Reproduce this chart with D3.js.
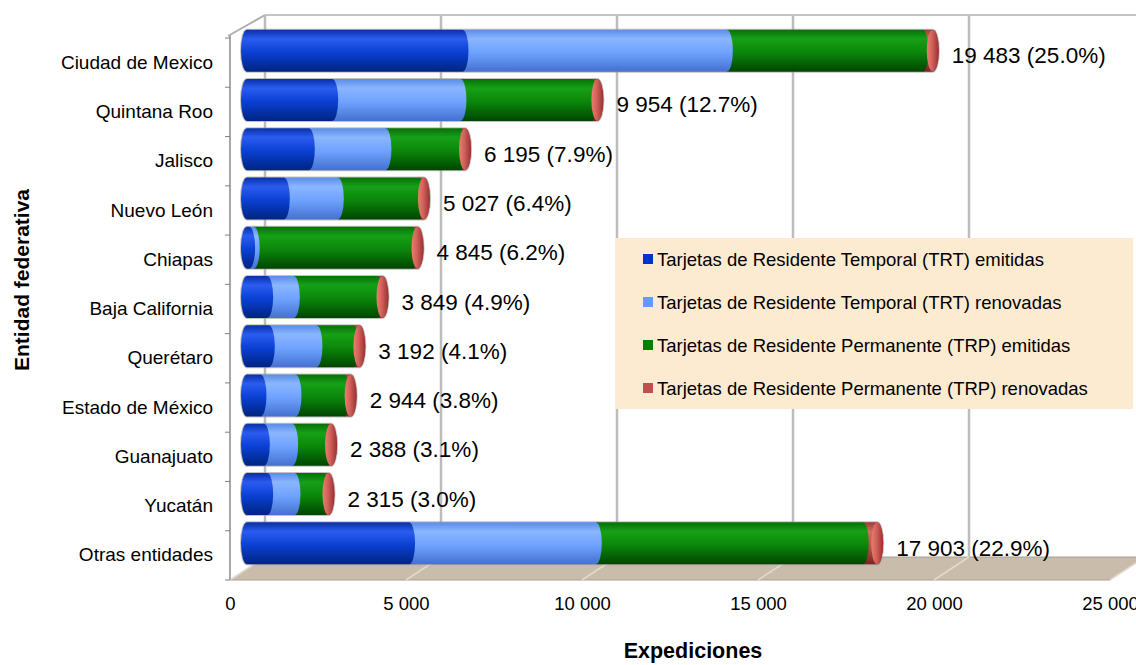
<!DOCTYPE html>
<html><head><meta charset="utf-8">
<script src="https://cdn.jsdelivr.net/npm/d3@7"></script>
<style>body{margin:0;background:#fff}svg{display:block;font-family:"Liberation Sans",Arial,sans-serif}</style>
</head><body><svg id="c" width="1136" height="665"></svg>
<script>
const categories = ["Ciudad de Mexico","Quintana Roo","Jalisco","Nuevo León","Chiapas","Baja California","Querétaro","Estado de México","Guanajuato","Yucatán","Otras entidades"];
const trtEmitidas  = [6122, 2420, 1756, 1046,   60,  573,  620,  383, 478, 573, 4604];
const trtRenovadas = [7510, 3644, 2177, 1534,  130,  757, 1354,  994, 805, 776, 5305];
const trpEmitidas  = [5561, 3736, 2130, 2300, 4500, 2367, 1042, 1373, 994, 833, 7585];
const trpRenovadas = [ 290,  154,  132,  147,  155,  152,  176,  194, 111, 133,  409];
const percents = [25.0, 12.7, 7.9, 6.4, 6.2, 4.9, 4.1, 3.8, 3.1, 3.0, 22.9];
const seriesNames = ["Tarjetas de Residente Temporal (TRT) emitidas","Tarjetas de Residente Temporal (TRT) renovadas","Tarjetas de Residente Permanente (TRP) emitidas","Tarjetas de Residente Permanente (TRP) renovadas"];
const xTicks = [0, 5000, 10000, 15000, 20000, 25000];
const series = [trtEmitidas, trtRenovadas, trpEmitidas, trpRenovadas];
const legendColors = ["#0033cc", "#6699ff", "#008000", "#c0504d"];
const shades = [
  ["#0830a8","#2a5cf0","#0a3fd2","#002480"],
  ["#5a8ce8","#8ab6ff","#6ea2ff","#4570d0"],
  ["#067006","#17a017","#0a860a","#004500"],
  ["#a03a38","#d86a60","#c0504d","#7a2522"]
];

const svg = d3.select("#c");
const x = d3.scaleLinear().domain([0,25000]).range([230,1110]);
const y = d3.scaleBand().domain(categories).range([38,580]);
const DX = 35, DY = -23;
const BX = 17, BY = -12;
const barH = 42, rx = 6;
const fmt = d => d3.format(",")(d).replace(/,/g, " ");

const defs = svg.append("defs");
shades.forEach((s,i)=>{
  const g = defs.append("linearGradient").attr("id","g"+i).attr("x1",0).attr("y1",0).attr("x2",0).attr("y2",1);
  [[0,s[0]],[0.22,s[1]],[0.55,s[2]],[1,s[3]]].forEach(([o,c])=>g.append("stop").attr("offset",o).attr("stop-color",c));
});
const cg = defs.append("linearGradient").attr("id","cap").attr("x1",0).attr("y1",0).attr("x2",1).attr("y2",0);
[[0,"#e8806e"],[0.45,"#d0605a"],[1,"#983030"]].forEach(([o,c])=>cg.append("stop").attr("offset",o).attr("stop-color",c));

// floor
const x0 = x(0), x1 = x(25000), yb = 580;
svg.append("polygon")
  .attr("points", [[x0,yb],[x1,yb],[x1+DX,yb+DY],[x0+DX,yb+DY]].map(p=>p.join(",")).join(" "))
  .attr("fill","#c9bcaa").attr("stroke","#a8a096").attr("stroke-width",1);

// back wall gridlines
xTicks.forEach(v=>{
  svg.append("line").attr("x1",x(v)+DX).attr("x2",x(v)+DX).attr("y1",y.range()[0]+DY).attr("y2",yb+DY)
    .attr("stroke","#bdbdbd").attr("stroke-width",2.5);
  svg.append("line").attr("x1",x(v)+DX).attr("x2",x(v)).attr("y1",yb+DY).attr("y2",yb)
    .attr("stroke","#e2dbd0").attr("stroke-width",1.5);
});
svg.append("line").attr("x1",x0+DX).attr("x2",1136).attr("y1",y.range()[0]+DY).attr("y2",y.range()[0]+DY)
  .attr("stroke","#c4c4c4").attr("stroke-width",2);
svg.append("line").attr("x1",x0).attr("x2",x0).attr("y1",y.range()[0]-3).attr("y2",yb)
  .attr("stroke","#a8a8a8").attr("stroke-width",2);
svg.append("line").attr("x1",x0-2).attr("x2",x0+DX).attr("y1",y.range()[0]-2).attr("y2",y.range()[0]+DY)
  .attr("stroke","#b0b0b0").attr("stroke-width",2);
d3.range(categories.length+1).forEach(i=>{
  const yy = y.range()[0] + i*y.step();
  svg.append("line").attr("x1",x0-5).attr("x2",x0).attr("y1",yy).attr("y2",yy).attr("stroke","#808080").attr("stroke-width",1);
});

// bars
categories.forEach((c,ci)=>{
  const cy = y(c) + y.bandwidth()/2 + BY;
  const top = cy - barH/2, bot = cy + barH/2, ry = barH/2;
  const vals = series.map(s=>s[ci]);
  const cum = [0]; vals.forEach(v=>cum.push(cum[cum.length-1]+v));
  const px = cum.map(v=>x(v)+BX);
  const g = svg.append("g");
  g.append("path").attr("d",`M${px[0]},${top} L${px[4]},${top} A${rx},${ry} 0 0 1 ${px[4]},${bot} L${px[0]},${bot} A${rx},${ry} 0 0 1 ${px[0]},${top} Z`)
    .attr("fill","none").attr("stroke","#9a9a9a").attr("stroke-width",2).attr("opacity",0.6);
  for(let i=3;i>=0;i--){
    const xa = px[i], xb = px[i+1];
    let d = `M${xa},${top} L${xb},${top} A${rx},${ry} 0 0 1 ${xb},${bot} L${xa},${bot}`;
    if(i===0) d += ` A${rx},${ry} 0 0 1 ${xa},${top}`;
    d += " Z";
    g.append("path").attr("d",d).attr("fill",`url(#g${i})`);
  }
  g.append("ellipse").attr("cx",px[4]).attr("cy",cy).attr("rx",rx).attr("ry",ry).attr("fill","url(#cap)");
  svg.append("text").attr("x",px[4]+rx+13).attr("y",cy+5).attr("dominant-baseline","central")
    .attr("font-size",22.5).attr("fill","#000")
    .text(`${fmt(cum[4])} (${percents[ci].toFixed(1)}%)`);
});

// axes
const xa = svg.append("g").attr("transform","translate(0,594)")
  .call(d3.axisBottom(x).tickValues(xTicks).tickFormat(fmt).tickSize(0).tickPadding(3));
xa.select(".domain").remove();
xa.selectAll("text").attr("font-size",18.5).attr("fill","#000").attr("font-family","Liberation Sans, Arial, sans-serif");

const ya = svg.append("g").attr("transform","translate(213,0)")
  .call(d3.axisLeft(y).tickSize(0).tickPadding(0));
ya.select(".domain").remove();
ya.selectAll("text").attr("font-size",19).attr("fill","#000").attr("font-family","Liberation Sans, Arial, sans-serif");

// titles
svg.append("text").attr("transform","translate(29,280) rotate(-90)").attr("text-anchor","middle")
  .attr("font-size",21).attr("font-weight","bold").text("Entidad federativa");
svg.append("text").attr("x",693).attr("y",658).attr("text-anchor","middle")
  .attr("font-size",21.5).attr("font-weight","bold").text("Expediciones");

// legend
const lg = svg.append("g");
lg.append("rect").attr("x",616).attr("y",238).attr("width",517).attr("height",171).attr("fill","#fdebd1");
seriesNames.forEach((n,i)=>{
  const ly = 259 + i*43;
  lg.append("rect").attr("x",643).attr("y",ly-5).attr("width",10).attr("height",10).attr("fill",legendColors[i]);
  lg.append("text").attr("x",657).attr("y",ly).attr("dominant-baseline","central").attr("font-size",18.5).attr("fill","#000").text(n);
});
</script></body></html>
